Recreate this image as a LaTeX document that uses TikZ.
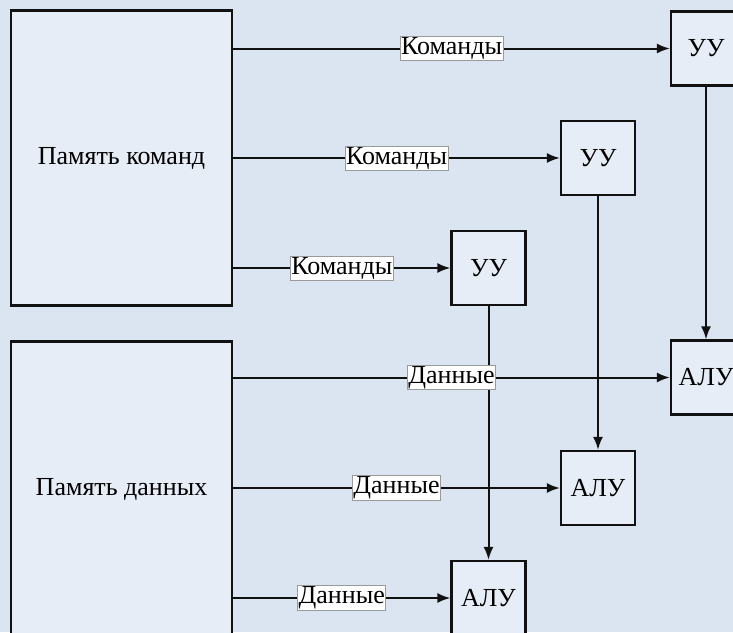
\documentclass[tikz,border=0pt]{standalone}
\usepackage{fontspec}
\setmainfont{Liberation Serif}
\usetikzlibrary{arrows.meta,positioning}
\definecolor{Back}{HTML}{DBE5F1}
\definecolor{Box}{HTML}{E7EDF7}
\definecolor{Line}{HTML}{111111}
\definecolor{Tag}{HTML}{9A9A9A}

\begin{document}
\begin{tikzpicture}[
 x=1pt,y=-1pt,
 font=\fontsize{26}{28}\selectfont,
 blk/.style={draw=Line,line width=2.2pt,fill=Box,inner sep=0pt},
 mem/.style={blk,minimum width=221pt,minimum height=295pt},
 unit/.style={blk,minimum width=74pt,minimum height=74pt},
 a/.style={-{Latex[length=13pt,width=10pt]},line width=2pt,draw=Line},
 tag/.style={fill=white,draw=Tag,line width=0.8pt,inner sep=1pt,midway}
]
\useasboundingbox (0,0) rectangle (733,632);
\fill[Back] (0,0) rectangle (733,632);
\clip (0,0) rectangle (733,632);
% memories
\node[mem] (memcmd) at (121.5,158) {Память команд};
\node[mem] (memdat) at (121.5,489) {Память данных};
% control units and ALUs
\node[unit,minimum width=70pt] (uu1) at (706,48.5) {УУ};
\node[unit] (uu2) at (598,158) {УУ};
\node[unit] (uu3) at (488.5,268) {УУ};
\node[unit,minimum width=70pt] (alu1) at (706,377.5) {АЛУ};
\node[unit] (alu2) at (598,488) {АЛУ};
\node[unit] (alu3) at (488.5,598) {АЛУ};
% uu -> alu
\draw[a] (uu1) -- (alu1);
\draw[a] (uu2) -- (alu2);
\draw[a] (uu3) -- (alu3);
% commands
\draw[a] (memcmd.east |- uu1) -- node[tag] {Команды} (uu1);
\draw[a] (memcmd.east |- uu2) -- node[tag] {Команды} (uu2);
\draw[a] (memcmd.east |- uu3) -- node[tag] {Команды} (uu3);
% data
\draw[a] (memdat.east |- alu1) -- node[tag] {Данные} (alu1);
\draw[a] (memdat.east |- alu2) -- node[tag] {Данные} (alu2);
\draw[a] (memdat.east |- alu3) -- node[tag] {Данные} (alu3);
\end{tikzpicture}
\end{document}
